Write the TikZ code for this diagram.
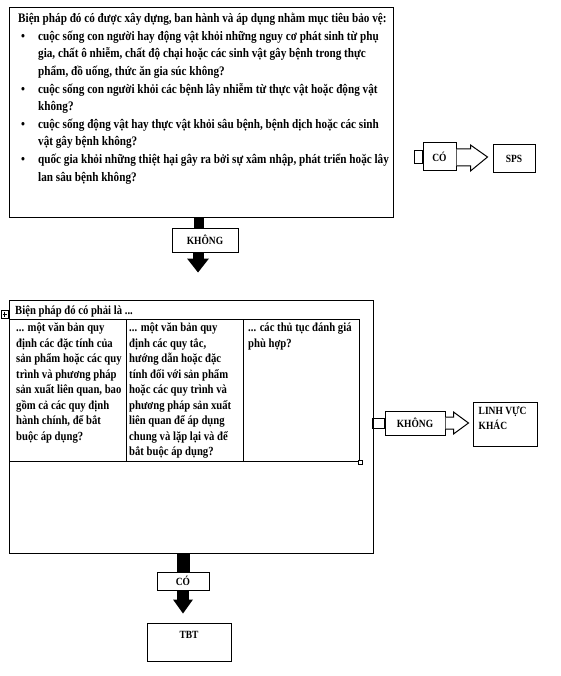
\documentclass[tikz,border=0pt]{standalone}
\usepackage{fontspec}
\setmainfont{Liberation Serif}[FakeStretch=0.86]
\usetikzlibrary{calc}
\begin{document}
\begin{tikzpicture}[x=1pt,y=-1pt,
  bx/.style={draw, line width=1pt, fill=white, inner sep=0pt},
  lbl/.style={font=\bfseries\fontsize{11}{15}\selectfont},
  toptext/.style={inner sep=0pt, align=left, anchor=north west, font=\bfseries\fontsize{13}{17.6}\selectfont},
  celltext/.style={inner sep=0pt, align=left, anchor=north west, font=\bfseries\fontsize{12.4}{15.5}\selectfont},
  openarrow/.style={draw, line width=1pt, fill=white}]
\useasboundingbox (0,0) rectangle (560,676);

% ---------- top box ----------
\node[bx, line width=1.4pt, minimum width=384pt, minimum height=210pt, anchor=north west] (b1) at (9,7) {};
\node[toptext] (t1) at (18,13) {Biện pháp đó có được xây dựng, ban hành và áp dụng nhằm mục tiêu bảo vệ:\\
\hspace*{3pt}\makebox[17pt][l]{•}cuộc sống con người hay động vật khỏi những nguy cơ phát sinh từ phụ\\
\hspace*{20pt}gia, chất ô nhiễm, chất độ chại hoặc các sinh vật gây bệnh trong thực\\
\hspace*{20pt}phẩm, đồ uống, thức ăn gia súc không?\\
\hspace*{3pt}\makebox[17pt][l]{•}cuộc sống con người khỏi các bệnh lây nhiễm từ thực vật hoặc động vật\\
\hspace*{20pt}không?\\
\hspace*{3pt}\makebox[17pt][l]{•}cuộc sống động vật hay thực vật khỏi sâu bệnh, bệnh dịch hoặc các sinh\\
\hspace*{20pt}vật gây bệnh không?\\
\hspace*{3pt}\makebox[17pt][l]{•}quốc gia khỏi những thiệt hại gây ra bởi sự xâm nhập, phát triển hoặc lây\\
\hspace*{20pt}lan sâu bệnh không?};

% ---------- CÓ -> SPS ----------
\node[bx, minimum width=33pt, minimum height=28pt, lbl] (co1) at (439.5,157) {CÓ};
\draw[line width=1pt] ($(co1.west)+(-8,-6)$) rectangle ($(co1.west)+(0,7)$);
\draw[openarrow] (co1.east) ++(0,-8) -- ++(14,0) -- ++(0,-4) -- ++(17,12) -- ++(-17,14) -- ++(0,-5) -- ++(-14,0);
\node[bx, minimum width=42pt, minimum height=28pt, lbl] (sps) at (514,159) {SPS};

% ---------- KHÔNG down ----------
\node[bx, minimum width=66pt, minimum height=24pt, lbl] (k1) at (205,240) {KHÔNG};
\fill ($(b1.south)+(-8,0)$) rectangle ($(k1.north)+(-1,0)$);
\fill ($(k1.south)+(-12,0)$) rectangle ($(k1.south)+(-1,6)$);
\fill ($(k1.south)+(-18,6)$) -- ($(k1.south)+(4,6)$) -- ($(k1.south)+(-7,20)$) -- cycle;

% ---------- second box ----------
\node[bx, minimum width=364pt, minimum height=253pt, anchor=north west] (b2) at (9,300) {};
\node[celltext] (h2) at (15,306) {Biện pháp đó có phải là ...};
\node[bx, minimum width=117pt, minimum height=142pt, anchor=north west] (c1) at (9,319) {};
\node[bx, minimum width=117pt, minimum height=142pt, anchor=north west] (c2) at (126,319) {};
\node[bx, minimum width=116pt, minimum height=142pt, anchor=north west] (c3) at (243,319) {};
\node[celltext] (x1) at (16,323) {... một văn bản quy\\định các đặc tính của\\sản phẩm hoặc các quy\\trình và phương pháp\\sản xuất liên quan, bao\\gồm cả các quy định\\hành chính, để bắt\\buộc áp dụng?};
\node[celltext] (x2) at (129,323) {... một văn bản quy\\định các quy tắc,\\hướng dẫn hoặc đặc\\tính đối với sản phẩm\\hoặc các quy trình và\\phương pháp sản xuất\\liên quan để áp dụng\\chung và lặp lại và để\\bắt buộc áp dụng?};
\node[celltext] (x3) at (248,323) {... các thủ tục đánh giá\\phù hợp?};
% table handles
\draw[line width=0.6pt, fill=white] ($(c3.south east)+(-2,-2)$) rectangle ($(c3.south east)+(2,2)$);
\draw[line width=0.6pt] (1,310) rectangle (8,318);
\draw[line width=0.6pt] (4.5,311.5) -- (4.5,316.5) (2.5,314) -- (6.5,314);

% ---------- KHÔNG -> LINH VỰC KHÁC ----------
\node[bx, minimum width=60pt, minimum height=24pt, lbl] (k2) at (415,423) {KHÔNG};
\draw[line width=1pt] ($(k2.west)+(-12,-5)$) rectangle ($(k2.west)+(0,5)$);
\draw[openarrow] (k2.east) ++(0,-6) -- ++(8,0) -- ++(0,-5) -- ++(15,11) -- ++(-15,11) -- ++(0,-5) -- ++(-8,0);
\node[bx, minimum width=64pt, minimum height=44pt] (lv) at (505,424) {};
\node[lbl, inner sep=0pt, align=left, anchor=north west] (lvt) at ($(lv.north west)+(6,5)$) {LINH VỰC\\KHÁC};

% ---------- CÓ down -> TBT ----------
\node[bx, minimum width=52pt, minimum height=18pt, lbl] (co2) at (183,581) {CÓ};
\fill ($(co2.north)+(-6,0)$) rectangle ($(b2.south)+(-2,0)$);
\fill ($(co2.south)+(-6,0)$) rectangle ($(co2.south)+(6,9)$);
\fill ($(co2.south)+(-10,9)$) -- ($(co2.south)+(10,9)$) -- ($(co2.south)+(0,23)$) -- cycle;
\node[bx, minimum width=84pt, minimum height=38pt] (tbt) at (189,642) {};
\node[lbl] (tbtt) at (189,635) {TBT};
\end{tikzpicture}
\end{document}
